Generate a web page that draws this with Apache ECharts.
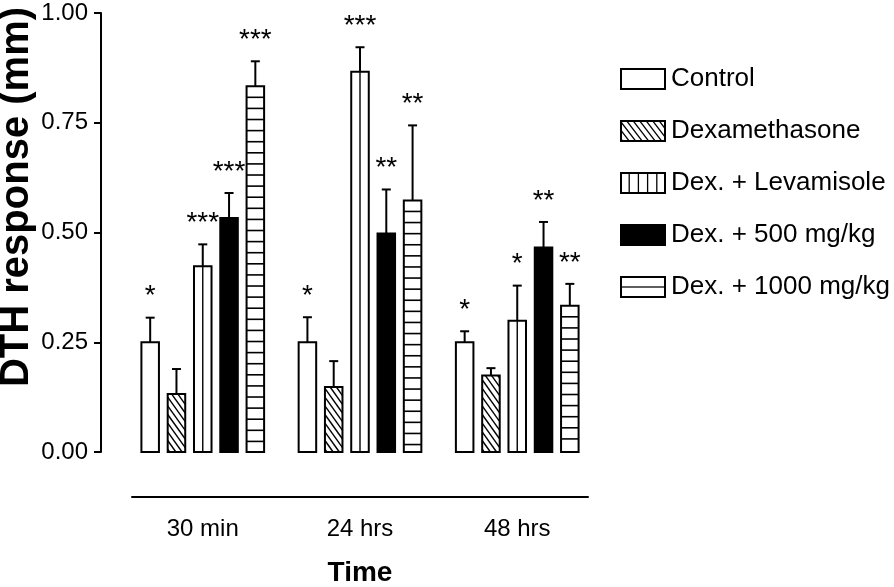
<!DOCTYPE html>
<html>
<head>
<meta charset="utf-8">
<script src="https://cdn.jsdelivr.net/npm/echarts@6/dist/echarts.min.js"></script>
<style>
html,body{margin:0;padding:0;background:#fff;}
#chart{width:894px;height:587px;}
</style>
</head>
<body>
<div id="chart"></div>
<script>
// ---- data ----
const categories = ['30 min', '24 hrs', '48 hrs'];
const treatments = ['Control', 'Dexamethasone', 'Dex. + Levamisole', 'Dex. + 500 mg/kg', 'Dex. + 1000 mg/kg'];
const yTicks = [0, 0.25, 0.5, 0.75, 1];

const meanControl = [0.25, 0.25, 0.25];
const semControl = [0.056, 0.057, 0.025];
const sigControl = ['*', '*', '*'];

const meanDexa = [0.132, 0.148, 0.174];
const semDexa = [0.057, 0.059, 0.017];
const sigDexa = ['', '', ''];

const meanLeva = [0.423, 0.866, 0.299];
const semLeva = [0.050, 0.056, 0.080];
const sigLeva = ['***', '***', '*'];

const mean500 = [0.533, 0.498, 0.466];
const sem500 = [0.057, 0.100, 0.058];
const sig500 = ['***', '**', '**'];

const mean1000 = [0.833, 0.573, 0.333];
const sem1000 = [0.057, 0.171, 0.050];
const sig1000 = ['***', '**', '**'];

const means = [meanControl, meanDexa, meanLeva, mean500, mean1000];
const sems = [semControl, semDexa, semLeva, sem500, sem1000];
const sigs = [sigControl, sigDexa, sigLeva, sig500, sig1000];

// ---- styles ----
const FN = "'Liberation Sans', Arial, sans-serif";
const FB = "'Liberation Sans', Arial, sans-serif";
const BAR_PITCH = 0.1672; // in category units
const BAR_W = 0.1115;

function clipSeg(x1, y1, x2, y2, rx0, ry0, rx1, ry1) {
  let t0 = 0, t1 = 1;
  const dx = x2 - x1, dy = y2 - y1;
  const p = [-dx, dx, -dy, dy];
  const q = [x1 - rx0, rx1 - x1, y1 - ry0, ry1 - y1];
  for (let i = 0; i < 4; i++) {
    if (p[i] === 0) { if (q[i] < 0) return null; }
    else {
      const r = q[i] / p[i];
      if (p[i] < 0) { if (r > t1) return null; if (r > t0) t0 = r; }
      else { if (r < t0) return null; if (r < t1) t1 = r; }
    }
  }
  return [x1 + t0 * dx, y1 + t0 * dy, x1 + t1 * dx, y1 + t1 * dy];
}

function makeRender(s) {
  return function (params, api) {
    const g = api.value(0), m = api.value(1), e = api.value(2);
    const unit = api.size([1, 0])[0];
    const pitch = unit * BAR_PITCH, bw = unit * BAR_W;
    const base = api.coord([g, 0]);
    const cx = base[0] + (s - 2) * pitch;
    const x0 = cx - bw / 2, x1 = cx + bw / 2;
    const yB = base[1];
    const yT = api.coord([g, m])[1];
    const yE = api.coord([g, m + e])[1];
    const ch = [];
    ch.push({ type: 'rect', shape: { x: x0, y: yT, width: bw, height: yB - yT },
      style: { fill: s === 3 ? '#000' : '#fff', stroke: null } });
    const ls = { stroke: '#000', lineWidth: 1.4 };
    if (s === 1) {
      const k = 1.4, sp = 6.2;
      const h = yB - yT;
      for (let xs = x0 + 2; xs < x1 + h / k; xs += sp) {
        const seg = clipSeg(xs, yB, xs - h / k, yT, x0, yT, x1, yB);
        if (seg) ch.push({ type: 'line', shape: { x1: seg[0], y1: seg[1], x2: seg[2], y2: seg[3] }, style: ls });
      }
    } else if (s === 2) {
      ch.push({ type: 'line', shape: { x1: cx, y1: yT, x2: cx, y2: yB }, style: ls });
    } else if (s === 4) {
      for (let y = yT + 11; y < yB - 3; y += 11.1) {
        ch.push({ type: 'line', shape: { x1: x0, y1: y, x2: x1, y2: y }, style: { stroke: '#000', lineWidth: 1.6 } });
      }
    }
    ch.push({ type: 'rect', shape: { x: x0, y: yT, width: bw, height: yB - yT },
      style: { fill: null, stroke: '#000', lineWidth: 2 } });
    ch.push({ type: 'line', shape: { x1: cx, y1: yT, x2: cx, y2: yE }, style: { stroke: '#000', lineWidth: 2 } });
    ch.push({ type: 'line', shape: { x1: cx - 4.5, y1: yE, x2: cx + 4.5, y2: yE }, style: { stroke: '#000', lineWidth: 2 } });
    const sig = sigs[s][params.dataIndex];
    if (sig) {
      ch.push({ type: 'text', x: cx, y: yE - 21,
        style: { text: sig, fill: '#000', font: '28px ' + FN, textAlign: 'center', textVerticalAlign: 'middle' } });
    }
    return { type: 'group', children: ch };
  };
}

function swatch(s) {
  const W = 92, H = 44;
  const c = document.createElement('canvas');
  c.width = W; c.height = H;
  const ctx = c.getContext('2d');
  ctx.fillStyle = s === 3 ? '#000' : '#fff';
  ctx.fillRect(0, 0, W, H);
  ctx.strokeStyle = '#000';
  ctx.lineWidth = 2.6;
  if (s === 1) {
    ctx.save();
    ctx.beginPath(); ctx.rect(0, 0, W, H); ctx.clip();
    for (let x = -40; x < W + 40; x += 13) {
      ctx.beginPath(); ctx.moveTo(x, 0); ctx.lineTo(x + H / 1.3, H); ctx.stroke();
    }
    ctx.restore();
  } else if (s === 2) {
    for (let i = 1; i <= 4; i++) {
      const x = W * i / 5;
      ctx.beginPath(); ctx.moveTo(x, 0); ctx.lineTo(x, H); ctx.stroke();
    }
  } else if (s === 4) {
    ctx.beginPath(); ctx.moveTo(0, H / 2); ctx.lineTo(W, H / 2); ctx.stroke();
  }
  ctx.lineWidth = 4;
  ctx.strokeRect(2, 2, W - 4, H - 4);
  return c.toDataURL('image/png');
}

const chart = echarts.init(document.getElementById('chart'), null, { renderer: 'canvas' });
const option = {
  animation: false,
  backgroundColor: '#fff',
  grid: { left: 132, right: 306, top: 13, bottom: 135, containLabel: false, outerBoundsMode: 'none' },
  xAxis: {
    type: 'value', min: -0.45, max: 2.45, offset: 45,
    axisLine: { show: true, onZero: false, lineStyle: { color: '#000', width: 2 } },
    axisTick: { show: false }, splitLine: { show: false },
    axisLabel: { customValues: [0, 1, 2], formatter: v => categories[Math.round(v)],
      fontSize: 24, fontFamily: FN, color: '#000', margin: 20 },
    name: 'Time', nameLocation: 'middle', nameGap: 62,
    nameTextStyle: { fontSize: 28, fontWeight: 'bold', fontFamily: FB, color: '#000' }
  },
  yAxis: {
    type: 'value', min: 0, max: 1, interval: 0.25, offset: 31,
    axisLine: { show: true, onZero: false, lineStyle: { color: '#000', width: 2 } },
    axisTick: { show: true, length: 7, lineStyle: { color: '#000', width: 2 } },
    axisLabel: { customValues: yTicks, formatter: v => v.toFixed(2), fontSize: 24, fontFamily: FN, color: '#000', margin: 13 },
    splitLine: { show: false }
  },
  legend: {
    orient: 'vertical', left: 615, top: 58, itemWidth: 46, itemHeight: 22, itemGap: 20,
    data: treatments.map((n, i) => ({ name: n, icon: 'image://' + swatch(i) })),
    textStyle: { fontSize: 26, fontFamily: FN, color: '#000', lineHeight: 32 },
    selectedMode: false
  },
  graphic: [{
    type: 'text', x: 17, y: 197, rotation: Math.PI / 2,
    style: { text: 'DTH response (mm)', font: 'bold 40px ' + FB, fill: '#000', textAlign: 'center', textVerticalAlign: 'middle' }
  }],
  series: treatments.map((name, s) => ({
    type: 'custom', name: name,
    renderItem: makeRender(s),
    encode: { x: 0, y: [1, 2] },
    data: means[s].map((v, g) => [g, v, sems[s][g]])
  }))
};
chart.setOption(option);
</script>
</body>
</html>
